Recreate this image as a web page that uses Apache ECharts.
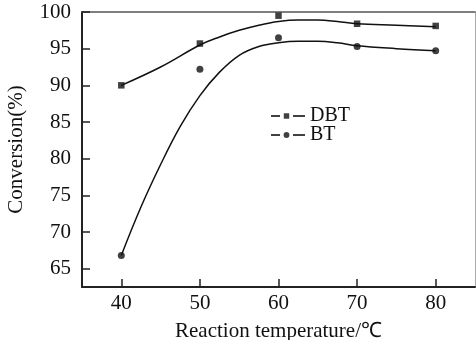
<!DOCTYPE html>
<html>
<head>
<meta charset="utf-8">
<script src="https://cdn.jsdelivr.net/npm/echarts@6/dist/echarts.min.js"></script>
<style>
html,body{margin:0;padding:0;background:#fff;}
#chart{width:476px;height:340px;}
</style>
</head>
<body>
<div id="chart"></div>
<script>
// measured points
var temps = [40, 50, 60, 70, 80];
var dbtVals = [90.0, 95.7, 99.5, 98.4, 98.1];
var btVals = [66.8, 92.2, 96.5, 95.3, 94.7];

// fitted curves
var dbtFitX = [40, 45, 50, 52.5, 55, 57.5, 60, 62.5, 65, 67.5, 70, 75, 80];
var dbtFitY = [90.0, 92.5, 95.5, 96.6, 97.5, 98.2, 98.7, 98.9, 98.9, 98.7, 98.4, 98.2, 98.0];
var btFitX = [40, 42.5, 45, 47.5, 50, 52.5, 55, 57.5, 60, 62.5, 65, 67.5, 70, 75, 80];
var btFitY = [66.8, 73.4, 79.2, 84.4, 88.6, 91.8, 94.1, 95.3, 95.8, 96.0, 96.0, 95.8, 95.4, 95.0, 94.7];

var xTicks = [40, 50, 60, 70, 80];
var yTicks = [65, 70, 75, 80, 85, 90, 95, 100];

function pairs(xs, ys){
	var out = [];
	for(var i=0;i<xs.length;i++){
		out.push([xs[i], ys[i]]);
	}
	return out;
}

var font = 'Liberation Serif, Times New Roman, serif';
var ink = '#111';

// legend icons: dash - marker - dash
var iconDBT = 'path://M0,2.5L9,2.5L9,4.5L0,4.5Z M12.8,0.8L18.2,0.8L18.2,6.2L12.8,6.2Z M22,2.5L34,2.5L34,4.5L22,4.5Z M0,0L0.01,0Z M0,7L0.01,7Z';
var iconBT = 'path://M0,2.5L9,2.5L9,4.5L0,4.5Z M15.5,0.6A2.9,2.9 0 1,1 15.5,6.4A2.9,2.9 0 1,1 15.5,0.6Z M22,2.5L34,2.5L34,4.5L22,4.5Z M0,0L0.01,0Z M0,7L0.01,7Z';

var myChart = echarts.init(document.getElementById('chart'));
var option = {
	animation: false,
	backgroundColor: '#fff',
	textStyle: {fontFamily: font, color: ink},
	grid: {left: 82, right: 1, top: 12, bottom: 53, containLabel: false, outerBoundsMode: 'none'},
	legend: {
		orient: 'vertical',
		left: 266,
		top: 101,
		itemWidth: 34,
		itemHeight: 7,
		itemGap: -1,
		textStyle: {fontFamily: font, fontSize: 20, lineHeight: 19, color: ink, padding: [0, 0, 0, 0]},
		data: [
			{name: 'DBT', icon: iconDBT, itemStyle: {color: ink}},
			{name: 'BT', icon: iconBT, itemStyle: {color: ink}}
		]
	},
	xAxis: [{
		type: 'value',
		min: 35,
		max: 85,
		name: 'Reaction temperature/\u2103',
		nameLocation: 'middle',
		nameGap: 34,
		nameTextStyle: {fontFamily: font, fontSize: 21, color: ink},
		axisLine: {lineStyle: {color: '#222', width: 2}},
		axisTick: {inside: true, length: 8, customValues: xTicks, lineStyle: {color: '#222', width: 1.5}},
		axisLabel: {customValues: xTicks, fontFamily: font, fontSize: 21, color: ink, margin: 6},
		splitLine: {show: false}
	}, {
		type: 'value',
		position: 'top',
		min: 35,
		max: 85,
		axisLine: {lineStyle: {color: '#555', width: 1.5}},
		axisTick: {show: false},
		axisLabel: {show: false},
		splitLine: {show: false}
	}],
	yAxis: [{
		type: 'value',
		min: 62.5,
		max: 100,
		name: 'Conversion(%)',
		nameLocation: 'middle',
		nameGap: 55,
		nameTextStyle: {fontFamily: font, fontSize: 21, color: ink},
		axisLine: {lineStyle: {color: '#222', width: 2}},
		axisTick: {inside: true, length: 8, customValues: yTicks, lineStyle: {color: '#222', width: 1.5}},
		axisLabel: {customValues: yTicks, fontFamily: font, fontSize: 21, color: ink, margin: 11},
		splitLine: {show: false}
	}, {
		type: 'value',
		position: 'right',
		min: 62.5,
		max: 100,
		axisLine: {show: true, lineStyle: {color: '#aaa', width: 1}},
		axisTick: {show: false},
		axisLabel: {show: false},
		splitLine: {show: false}
	}],
	series: [{
		name: 'DBT fit',
		type: 'line',
		smooth: 0.4,
		showSymbol: false,
		data: pairs(dbtFitX, dbtFitY),
		lineStyle: {color: ink, width: 1.5},
		z: 2
	}, {
		name: 'BT fit',
		type: 'line',
		smooth: 0.4,
		showSymbol: false,
		data: pairs(btFitX, btFitY),
		lineStyle: {color: ink, width: 1.5},
		z: 2
	}, {
		name: 'DBT',
		type: 'scatter',
		symbol: 'rect',
		symbolSize: 6.5,
		data: pairs(temps, dbtVals),
		itemStyle: {color: ink},
		z: 3
	}, {
		name: 'BT',
		type: 'scatter',
		symbol: 'circle',
		symbolSize: 7,
		data: pairs(temps, btVals),
		itemStyle: {color: ink},
		z: 3
	}]
};
myChart.setOption(option, true);
</script>
</body>
</html>
